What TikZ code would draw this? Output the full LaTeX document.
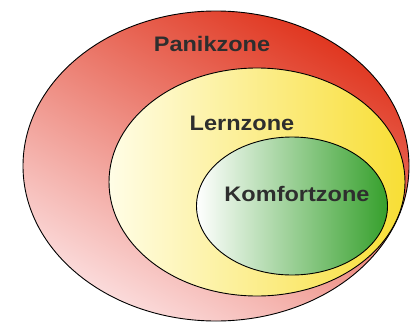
\documentclass[tikz,border=0pt]{standalone}
\usepackage{fontspec}
\setmainfont{Liberation Sans}
\usepackage{graphicx}
\usetikzlibrary{shapes.geometric}

\definecolor{panikred}{HTML}{E0361F}
\definecolor{panikmid}{HTML}{E4554C}
\definecolor{panikpale}{HTML}{FBDCDC}
\definecolor{lernyellow}{HTML}{F8DE34}
\definecolor{lernpale}{HTML}{FFFDE6}
\definecolor{komfortgreen}{HTML}{36A02C}
\definecolor{zonetext}{HTML}{2E2E2E}

\tikzset{
    zone/.style={ellipse, draw=black, line width=0.9pt, inner sep=0pt},
    zonelabel/.style={font=\bfseries\fontsize{21}{21}\selectfont, text=zonetext, inner sep=0pt}
}

\begin{document}
\begin{tikzpicture}[x=1pt, y=-1pt]
        \useasboundingbox (0,0) rectangle (411,324);

        \node[zone, minimum width=386pt, minimum height=310pt,
              left color=panikpale, middle color=panikmid, right color=panikred, shading angle=150] (panik) at (216,166) {};
        \node[zone, minimum width=296pt, minimum height=228pt,
              left color=lernpale, right color=lernyellow] (lern) at (257,182) {};
        \node[zone, minimum width=191pt, minimum height=138pt,
              left color=white, right color=komfortgreen] (komfort) at (292,206) {};

        \node[zonelabel] (panikname) at (212,44) {\scalebox{1.12}[1]{Panikzone}};
        \node[zonelabel] (lernname) at (242,123) {\scalebox{1.12}[1]{Lernzone}};
        \node[zonelabel] (komfortname) at (297,194) {\scalebox{1.12}[1]{Komfortzone}};
        \end{tikzpicture}
\end{document}
